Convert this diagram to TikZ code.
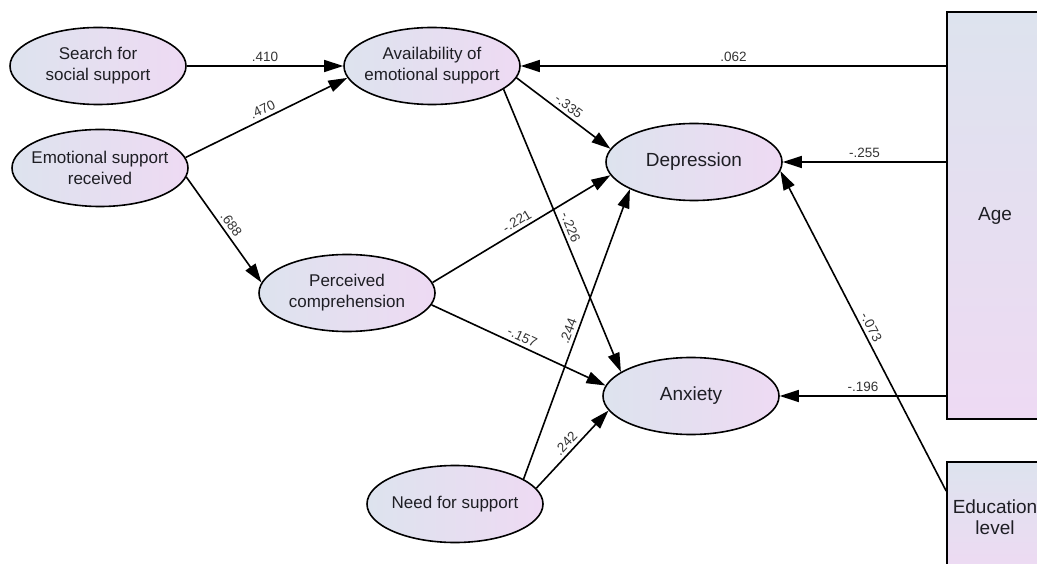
\documentclass[tikz,border=0pt]{standalone}
\usepackage{fontspec}
\setmainfont{Liberation Sans}
\usetikzlibrary{shapes.geometric,arrows.meta}

\definecolor{shadeL}{HTML}{DDE3EE}
\definecolor{shadeR}{HTML}{EEDAF3}
\definecolor{ink}{HTML}{1E1E24}

\tikzset{
  latent/.style={ellipse, draw=black, line width=1.6pt, left color=shadeL, right color=shadeR,
    minimum width=176pt, minimum height=77pt, inner sep=-8pt, align=center, text=ink,
    font=\fontsize{17}{21}\selectfont},
  outcome/.style={latent, font=\fontsize{19}{22}\selectfont},
  obs/.style={rectangle, draw=black, line width=1.6pt, top color=shadeL, bottom color=shadeR,
    minimum width=96pt, inner sep=0pt, align=center, text=ink, font=\fontsize{19}{21}\selectfont},
  edg/.style={line width=1.6pt, -{Triangle[length=19pt,width=12pt]}},
  coef/.style={sloped, font=\fontsize{13.5}{13.5}\selectfont, text=black!80, inner sep=3.5pt},
}

\begin{document}
\begin{tikzpicture}[x=1pt, y=-1pt]
  \useasboundingbox (0,0) rectangle (1037,564);
  \clip (0,0) rectangle (1037,564);

  \node[latent]                    (srch)  at (98,66)    {Search for\\social support};
  \node[latent]                    (emo)   at (100,168)  {Emotional support\\received};
  \node[latent]                    (avail) at (432,66)   {Availability of\\emotional support};
  \node[latent]                    (perc)  at (347,293)  {Perceived\\comprehension};
  \node[latent]                    (need)  at (455,504)  {Need for support};
  \node[outcome]                   (dep)   at (694,162)  {Depression};
  \node[outcome]                   (anx)   at (691,396)  {Anxiety};
  \node[obs, minimum height=407pt] (age)   at (995,215.5) {Age};
  \node[obs, minimum height=110pt] (edu)   at (995,517)  {Education\\level};

  \draw[edg] (srch) -- node[coef, above] {.410} (avail);
  \draw[edg] (emo.7) -- node[coef, above] {.470} (avail.188);
  \draw[edg] (emo.-6) -- node[coef, above] {.688} (perc.173);
  \draw[edg] (age.west |- avail.east) -- node[coef, above] {.062} (avail.east);
  \draw[edg] (avail.-8) -- node[coef, above] {-.335} (dep.171);
  \draw[edg] (avail.-18) -- node[coef, above] {-.226} (anx.161);
  \draw[edg] (perc.7) -- node[coef, above] {-.221} (dep.189);
  \draw[edg] (perc.-8) -- node[coef, above] {-.157} (anx.173);
  \draw[edg] (need.20) -- node[coef, above] {.244} (dep.203);
  \draw[edg] (need.11) -- node[coef, above] {.242} (anx.190);
  \draw[edg] (age.west |- dep.east) -- node[coef, above] {-.255} (dep.east);
  \draw[edg] (age.west |- anx.east) -- node[coef, above] {-.196} (anx.east);
  \draw[edg] (edu.152) -- node[coef, above] {-.073} (dep.-6);
\end{tikzpicture}
\end{document}
